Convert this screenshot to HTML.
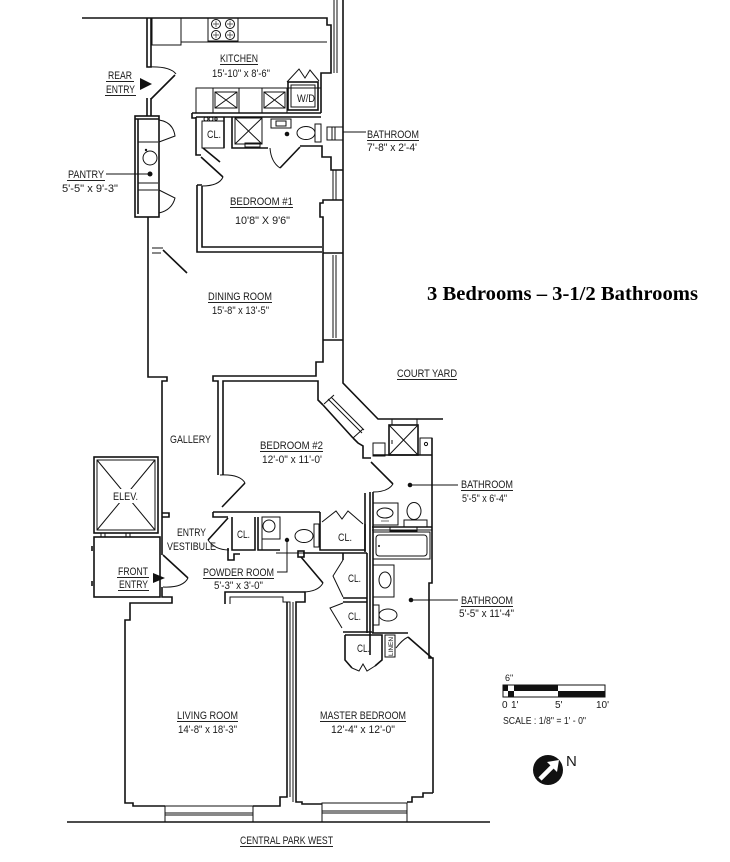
<!DOCTYPE html>
<html><head><meta charset="utf-8">
<style>
html,body{margin:0;padding:0;background:#fff;}
svg{display:block;}
text{font-family:"Liberation Sans",Arial,sans-serif;font-size:11px;fill:#1a1a1a;}
.w{fill:none;stroke:#111;stroke-width:1.6;stroke-linejoin:miter;}
.t{fill:none;stroke:#111;stroke-width:1;}
.h{fill:none;stroke:#333;stroke-width:0.7;}
.u{stroke:#222;stroke-width:0.9;}
</style></head><body>
<svg width="730" height="862" viewBox="0 0 730 862" xmlns="http://www.w3.org/2000/svg">
<rect width="730" height="862" fill="#fff"/>

<!-- ===== Top left / rear entry ===== -->
<path class="w" d="M82,18 H327 V25 H331 V73 H321 V113"/>
<path class="w" d="M147,18 V67 H151 V18"/>
<path class="w" d="M147,98 V116 M151,98 V116"/>
<path class="w" d="M151,99 L175,75"/>
<path class="t" d="M148,67 Q170,66 176,74"/>
<polygon points="140,78 152,84 140,90" fill="#111"/>

<!-- pantry -->
<rect class="w" x="135" y="116" width="24" height="101"/>
<path class="w" d="M135,119 H159 M138,119 V214"/>
<path class="t" d="M138,142 H158 M138,183 H158 M138,190 H158"/>
<circle class="t" cx="150" cy="158" r="7"/>
<circle cx="146" cy="150" r="1.2" fill="#111"/>
<circle cx="150" cy="174" r="2.5" fill="#111"/>
<path class="t" d="M159,120 Q173,122 175,136 L159,142"/>
<path class="t" d="M159,190 L175,198 Q172,210 159,213"/>
<path class="t" d="M106,174 H148"/>

<!-- west wall dining/gallery -->
<path class="w" d="M148,217 V377 H167 V381 H162 V555"/>
<path class="t" d="M152,248 H163 M152,253 H161"/>
<path class="w" d="M163,250 L187,273"/>

<!-- kitchen counters -->
<rect class="t" x="152" y="18" width="29" height="27"/>
<path class="t" d="M181,42 H327"/>
<rect class="t" x="208" y="18" width="30" height="23"/>
<g class="t">
<circle cx="216" cy="24" r="4.5"/><circle cx="230" cy="24" r="4.5"/>
<circle cx="216" cy="35" r="4.5"/><circle cx="230" cy="35" r="4.5"/>
</g>
<g class="h">
<path d="M213,24 H219 M216,21 V27 M227,24 H233 M230,21 V27 M213,35 H219 M216,32 V38 M227,35 H233 M230,32 V38"/>
</g>

<!-- kitchen right wall / windows -->
<path class="t" d="M334,0 V73 M337,0 V73"/>
<path class="w" d="M343,0 V383 L378,419 H443"/>

<!-- W/D row -->
<path class="t" d="M196,113 V88 H321 M213,88 V113 M239,88 V113 M262,88 V113 M287,88 V113"/>
<rect class="t" x="215" y="92" width="22" height="16"/>
<path class="t" d="M215,92 L237,108 M237,92 L215,108"/>
<rect class="t" x="264" y="92" width="21" height="16"/>
<path class="t" d="M264,92 L285,108 M285,92 L264,108"/>
<rect class="w" x="288" y="82" width="30" height="28"/>
<rect class="t" x="291" y="85" width="24" height="22"/>
<path class="t" d="M287,82 L299,69 L305,78 L310,70 L319,81"/>
<text x="297" y="102" textLength="18" lengthAdjust="spacingAndGlyphs">W/D</text>

<!-- bath wall -->
<path class="w" d="M192,113 H321 M196,117 H321 M192,113 V118 H196"/>

<!-- CL / shower / bath (top) -->
<path class="w" d="M196,117 V155 H201"/>
<rect class="t" x="202" y="121" width="22" height="27"/>
<path class="w" d="M203,148 L220,162"/>
<circle class="t" cx="206" cy="119" r="2"/><circle class="t" cx="211" cy="119" r="2"/><circle class="t" cx="216" cy="119" r="1.2"/>
<path class="w" d="M224,117 V148 M232,117 V148 H268"/>
<rect class="t" x="235" y="118" width="27" height="26"/>
<path class="t" d="M235,118 L262,144 M262,118 L235,144"/>
<rect class="t" x="245" y="143" width="15" height="4"/>
<rect class="t" x="271" y="119" width="20" height="9"/>
<rect class="t" x="276" y="121" width="10" height="5"/>
<ellipse class="t" cx="306" cy="133" rx="9" ry="6.5"/>
<rect class="t" x="315" y="124" width="6" height="18"/>
<circle cx="287" cy="134" r="2.3" fill="#111"/>
<path class="t" d="M270,148 Q271,162 280,168"/>
<path class="w" d="M280,168 L300,147"/>
<path class="w" d="M300,146 H322 V157 H331 V170 H343"/>
<path class="w" d="M343,200 H331 H323 V203 H320 V217 H323 V340"/>
<path class="t" d="M333,170 V200 M336,170 V200"/>
<rect class="t" x="327" y="127" width="16" height="13"/>
<path class="t" d="M332,127 V140 M335,127 V140"/>
<path class="t" d="M343,132 H366"/>

<!-- bedroom 1 -->
<path class="w" d="M201,157 L223,177"/>
<path class="t" d="M223,177 Q219,186 202,186"/>
<path class="w" d="M197,185 V252 H322 M202,186 V247 H322 M197,185 H202"/>
<path class="w" d="M323,253 H343 M323,340 H343"/>
<path class="t" d="M333,255 V338 M336,255 V338"/>

<!-- dining bottom / bedroom 2 -->
<path class="w" d="M323,340 V362 H316 V376 H213 V381 H218 V475 M223,475 V381 H318 V400 L323,405"/>
<path class="w" d="M323,405 L353,438"/>
<path class="t" d="M328,399 L362,433 M331,397 L364,430 M324,404 L334,395 M353,438 L363,429"/>
<path class="w" d="M353,438 L358,443 L363,446 V458 H371"/>
<path class="w" d="M371,462 L393,484"/>
<path class="t" d="M393,484 Q388,492 373,492"/>

<!-- court / shaft -->
<rect class="t" x="392" y="419" width="25" height="6"/>
<rect class="w" x="389" y="425" width="29" height="30"/>
<path class="t" d="M389,425 L418,455 M418,425 L389,455"/>
<rect class="t" x="420" y="438" width="12" height="17"/>
<circle class="t" cx="426" cy="444" r="1.6"/>
<rect class="t" x="373" y="443" width="12" height="13"/>
<path class="t" d="M392,440 V444"/>
<path class="w" d="M373,455 H432"/>
<path class="w" d="M432,438 V583 H429 V658 H433 V793"/>

<!-- bath 1 -->
<path class="w" d="M370,492 V655 M373,492 V633"/>
<rect class="t" x="373" y="503" width="25" height="22"/>
<ellipse class="t" cx="385" cy="513" rx="8" ry="5"/>
<path class="h" d="M381,521 H389"/>
<ellipse class="t" cx="414" cy="511" rx="7" ry="8.5"/>
<rect class="t" x="404" y="520" width="23" height="7"/>
<circle cx="410" cy="485" r="2.3" fill="#111"/>
<path class="t" d="M410,485 H458"/>
<path class="w" d="M372,527 H432"/>
<path class="t" d="M372,530 H432"/>
<rect class="t" x="390" y="527" width="27" height="4"/>
<!-- bath 2 -->
<rect class="t" x="373" y="532" width="57" height="27"/>
<rect class="t" x="376" y="535" width="51" height="21" rx="3"/>
<circle cx="379" cy="546" r="1" fill="#111"/>
<rect class="t" x="373" y="565" width="21" height="32"/>
<ellipse class="t" cx="385" cy="580" rx="6" ry="8"/>
<rect class="t" x="373" y="605" width="6" height="20"/>
<ellipse class="t" cx="388" cy="615" rx="9" ry="6"/>
<circle cx="411" cy="600" r="2.3" fill="#111"/>
<path class="t" d="M411,600 H458"/>

<!-- vestibule / powder / closets -->
<path class="w" d="M213,512 H320 M213,512 V517 H228"/>
<path class="w" d="M222,507 L245,483"/>
<path class="t" d="M220,475 Q240,474 245,483"/>
<path class="w" d="M228,518 L208,540"/>
<path class="t" d="M208,540 Q215,550 229,550"/>
<path class="w" d="M228,548 V560 H234 V554 H240"/>
<path class="w" d="M232,517 V550 H255 V517"/>
<path class="w" d="M258,517 V550 H280"/>
<path class="t" d="M262,517 V550"/>
<rect class="t" x="262" y="517" width="18" height="22"/>
<circle class="t" cx="269" cy="526" r="6"/>
<ellipse class="t" cx="304" cy="536" rx="9" ry="6.5"/>
<rect class="t" x="314" y="524" width="5" height="23"/>
<path class="w" d="M320,512 V550 H365 V524"/>
<path class="t" d="M276,553 H303"/>
<path class="w" d="M303,553 H367"/>
<rect class="w" x="298" y="551" width="6" height="6"/>
<path class="w" d="M301,557 L323,583"/>
<path class="t" d="M323,583 Q318,592 302,592"/>
<path class="t" d="M277,572 H287 V541"/>
<circle cx="287" cy="540" r="2.2" fill="#111"/>
<path class="t" d="M322,522 L336,511 L342,519 L348,511 L363,524"/>
<path class="w" d="M365,493 V552"/>
<path class="w" d="M367,553 V633 M343,553 V560 M343,598 H367 M343,602 H367 M343,632 H372"/>
<path class="t" d="M343,560 L333,576 L343,597"/>
<path class="t" d="M343,603 L330,608 L342,628"/>
<path class="w" d="M345,635 V660 L352,668 M375,666 L382,660 V635 H345"/>
<path class="t" d="M352,668 L359,671 L363,664 L367,671 L375,666"/>
<rect class="t" x="385" y="635" width="10" height="22"/>
<text x="0" y="0" transform="translate(393,656) rotate(-90)" style="font-size:6px" textLength="19" lengthAdjust="spacingAndGlyphs">LINEN</text>
<path class="w" d="M372,633 H408"/>
<path class="w" d="M408,637 L432,658"/>
<path class="t" d="M396,648 Q402,640 408,637"/>

<!-- elevator / front entry -->
<rect class="w" x="94" y="457" width="64" height="76"/>
<rect class="t" x="97" y="460" width="58" height="70"/>
<path class="t" d="M97,460 L155,530 M155,460 L97,530"/>
<rect x="110" y="489" width="31" height="14" fill="#fff"/>
<rect class="t" x="101" y="533" width="4" height="4"/>
<rect class="t" x="126" y="533" width="4" height="4"/>
<rect class="w" x="94" y="537" width="66" height="60"/>
<path class="w" d="M92,546 V551 M92,581 V586"/>
<path class="w" d="M162,513 H169 V517 H162"/>
<path class="w" d="M163,555 L188,578"/>
<path class="t" d="M188,578 Q183,588 163,587"/>
<polygon points="153,573 165,578 153,583" fill="#111"/>
<path class="w" d="M162,587 V597 H172 V603 H130 V620 H125 V803 H133 V806 H165"/>

<!-- living / master -->
<rect class="t" x="165" y="806" width="88" height="16"/>
<path class="t" d="M165,813 H253 M165,815 H253"/>
<path class="w" d="M225,604 V592 H305 V602 H296 V802 H302 V804 H322"/>
<path class="t" d="M230,604 V597 H283 V602 H290 V797"/>
<path class="t" d="M293,602 V802"/>
<path class="w" d="M287,602 V797 H280 V806 H253"/>
<rect class="t" x="322" y="803" width="85" height="19"/>
<path class="t" d="M322,811 H407 M322,813 H407"/>
<path class="w" d="M407,802 H412 V797 H423 V793 H433"/>
<path class="w" d="M67,822 H490"/>

<!-- ===== Labels ===== -->
<text x="220" y="62" textLength="38" lengthAdjust="spacingAndGlyphs">KITCHEN</text>
<line class="u" x1="220" y1="64.5" x2="258" y2="64.5"/>
<text x="212" y="77" textLength="58" lengthAdjust="spacingAndGlyphs">15'-10" x 8'-6"</text>

<text x="108" y="79" textLength="24" lengthAdjust="spacingAndGlyphs">REAR</text>
<line class="u" x1="106" y1="81.5" x2="134" y2="81.5"/>
<text x="106" y="93" textLength="29" lengthAdjust="spacingAndGlyphs">ENTRY</text>
<line class="u" x1="105" y1="95.5" x2="136" y2="95.5"/>

<text x="68" y="178" textLength="36" lengthAdjust="spacingAndGlyphs">PANTRY</text>
<line class="u" x1="67" y1="180.5" x2="105" y2="180.5"/>
<text x="62" y="192" textLength="56" lengthAdjust="spacingAndGlyphs">5'-5" x 9'-3"</text>

<text x="207" y="138" textLength="14" lengthAdjust="spacingAndGlyphs">CL.</text>

<text x="367" y="138" textLength="52" lengthAdjust="spacingAndGlyphs">BATHROOM</text>
<line class="u" x1="367" y1="140.5" x2="419" y2="140.5"/>
<text x="367" y="151" textLength="50" lengthAdjust="spacingAndGlyphs">7'-8" x 2'-4'</text>

<text x="230" y="205" textLength="63" lengthAdjust="spacingAndGlyphs">BEDROOM #1</text>
<line class="u" x1="230" y1="207.5" x2="293" y2="207.5"/>
<text x="235" y="224" textLength="55" lengthAdjust="spacingAndGlyphs">10'8" X 9'6"</text>

<text x="208" y="300" textLength="64" lengthAdjust="spacingAndGlyphs">DINING ROOM</text>
<line class="u" x1="208" y1="302.5" x2="272" y2="302.5"/>
<text x="212" y="314" textLength="57" lengthAdjust="spacingAndGlyphs">15'-8" x 13'-5"</text>

<text x="427" y="300" style="font-family:'Liberation Serif','Times New Roman',serif;font-size:20px;font-weight:bold;fill:#000" textLength="271" lengthAdjust="spacingAndGlyphs">3 Bedrooms – 3-1/2 Bathrooms</text>

<text x="397" y="377" textLength="60" lengthAdjust="spacingAndGlyphs">COURT YARD</text>
<line class="u" x1="397" y1="379.5" x2="457" y2="379.5"/>

<text x="170" y="443" textLength="41" lengthAdjust="spacingAndGlyphs">GALLERY</text>

<text x="260" y="449" textLength="63" lengthAdjust="spacingAndGlyphs">BEDROOM #2</text>
<line class="u" x1="260" y1="451.5" x2="323" y2="451.5"/>
<text x="262" y="463" textLength="60" lengthAdjust="spacingAndGlyphs">12'-0" x 11'-0'</text>

<text x="461" y="488" textLength="52" lengthAdjust="spacingAndGlyphs">BATHROOM</text>
<line class="u" x1="461" y1="490.5" x2="513" y2="490.5"/>
<text x="462" y="502" textLength="45" lengthAdjust="spacingAndGlyphs">5'-5" x 6'-4"</text>

<text x="113" y="500" textLength="25" lengthAdjust="spacingAndGlyphs">ELEV.</text>

<text x="177" y="536" textLength="29" lengthAdjust="spacingAndGlyphs">ENTRY</text>
<text x="167" y="550" textLength="49" lengthAdjust="spacingAndGlyphs">VESTIBULE</text>

<text x="237" y="538" textLength="13" lengthAdjust="spacingAndGlyphs">CL.</text>
<text x="338" y="541" textLength="14" lengthAdjust="spacingAndGlyphs">CL.</text>
<text x="348" y="582" textLength="13" lengthAdjust="spacingAndGlyphs">CL.</text>
<text x="348" y="620" textLength="13" lengthAdjust="spacingAndGlyphs">CL.</text>
<text x="357" y="652" textLength="13" lengthAdjust="spacingAndGlyphs">CL.</text>

<text x="118" y="575" textLength="30" lengthAdjust="spacingAndGlyphs">FRONT</text>
<line class="u" x1="117" y1="577.5" x2="149" y2="577.5"/>
<text x="119" y="588" textLength="29" lengthAdjust="spacingAndGlyphs">ENTRY</text>
<line class="u" x1="118" y1="590.5" x2="149" y2="590.5"/>

<text x="203" y="576" textLength="71" lengthAdjust="spacingAndGlyphs">POWDER ROOM</text>
<line class="u" x1="203" y1="578.5" x2="274" y2="578.5"/>
<text x="214" y="589" textLength="49" lengthAdjust="spacingAndGlyphs">5'-3" x 3'-0"</text>

<text x="461" y="604" textLength="52" lengthAdjust="spacingAndGlyphs">BATHROOM</text>
<line class="u" x1="461" y1="606.5" x2="513" y2="606.5"/>
<text x="459" y="617" textLength="55" lengthAdjust="spacingAndGlyphs">5'-5" x 11'-4"</text>

<text x="177" y="719" textLength="61" lengthAdjust="spacingAndGlyphs">LIVING ROOM</text>
<line class="u" x1="177" y1="721.5" x2="238" y2="721.5"/>
<text x="178" y="733" textLength="59" lengthAdjust="spacingAndGlyphs">14'-8" x 18'-3"</text>

<text x="320" y="719" textLength="86" lengthAdjust="spacingAndGlyphs">MASTER BEDROOM</text>
<line class="u" x1="320" y1="721.5" x2="406" y2="721.5"/>
<text x="331" y="733" textLength="64" lengthAdjust="spacingAndGlyphs">12'-4" x 12'-0"</text>

<text x="240" y="844" textLength="93" lengthAdjust="spacingAndGlyphs">CENTRAL PARK WEST</text>
<line class="u" x1="240" y1="846.5" x2="333" y2="846.5"/>

<!-- scale bar -->
<text x="505" y="681" style="font-size:9px">6"</text>
<rect x="503" y="685" width="102" height="12" fill="#fff" stroke="#111" stroke-width="1"/>
<rect x="503" y="685" width="5" height="6" fill="#111"/>
<rect x="508" y="691" width="6" height="6" fill="#111"/>
<rect x="514" y="685" width="44" height="6" fill="#111"/>
<rect x="558" y="691" width="47" height="6" fill="#111"/>
<text x="502" y="708" style="font-size:10px">0</text>
<text x="511" y="708" style="font-size:10px">1'</text>
<text x="555" y="708" style="font-size:10px">5'</text>
<text x="596" y="708" style="font-size:10px">10'</text>
<text x="503" y="724" style="font-size:10px" textLength="83" lengthAdjust="spacingAndGlyphs">SCALE : 1/8" = 1' - 0"</text>

<!-- north arrow -->
<circle cx="548" cy="770" r="15" fill="#111"/>
<path d="M540,779 L553,766" stroke="#fff" stroke-width="4.5" fill="none"/>
<polygon points="559,760 547,762 557,772" fill="#fff"/>
<text x="566" y="766" style="font-size:15px">N</text>
</svg>
</body></html>
